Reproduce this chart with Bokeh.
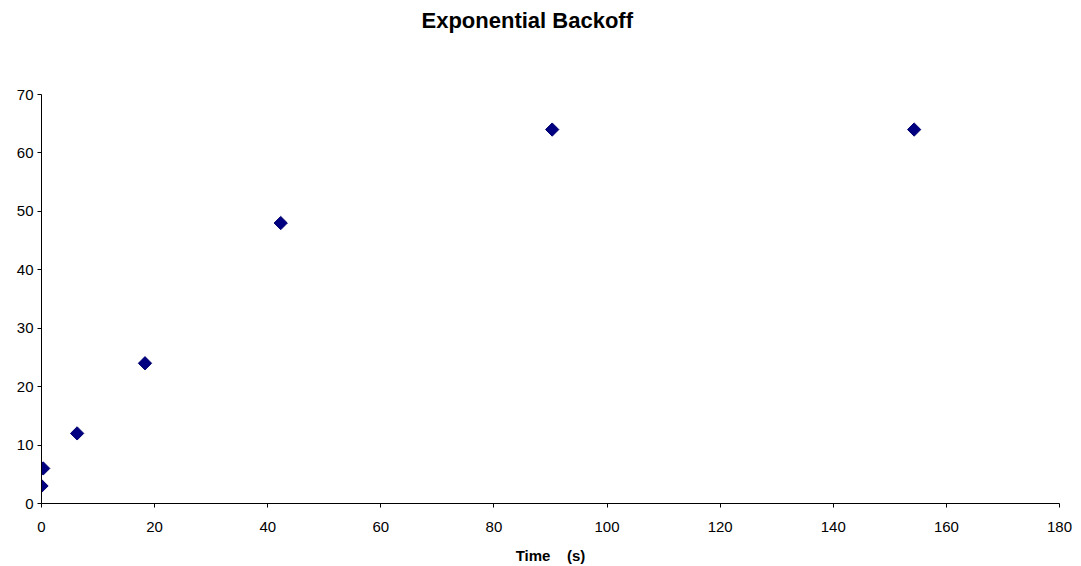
import math
from bokeh.plotting import figure
from bokeh.models import FixedTicker, Range1d, Title
from bokeh.embed import file_html
from bokeh.resources import INLINE

# Retry delay (s) plotted against elapsed time (s)
time_s = [0.0, 0.3, 6.3, 18.3, 42.3, 90.3, 154.3]
delay_s = [3, 6, 12, 24, 48, 64, 64]

x_ticks = [0, 20, 40, 60, 80, 100, 120, 140, 160, 180]
y_ticks = [0, 10, 20, 30, 40, 50, 60, 70]

FONT = "Liberation Sans"

p = figure(
    width=1081, height=566,
    x_range=Range1d(0, 180), y_range=Range1d(0, 70),
    output_backend="svg", toolbar_location=None,
    min_border_left=41, min_border_right=22,
    min_border_top=94, min_border_bottom=63,
)
p.title = None
# blank band between the heading and the plot area
p.add_layout(Title(text=" ", standoff=52, text_font_size="1px"), "above")
p.add_layout(Title(text="Exponential Backoff", align="left",
                   vertical_align="top",
                   text_font=FONT, text_font_size="22px",
                   text_font_style="bold", text_color="black",
                   standoff=10, offset=380), "above")

p.outline_line_color = None
p.xgrid.grid_line_color = None
p.ygrid.grid_line_color = None
p.background_fill_color = "white"
p.border_fill_color = "white"

p.scatter(time_s, delay_s, marker="square", angle=math.pi / 4, size=9.4,
          fill_color="#000080", line_color="#000070", line_width=1)

for ax in (p.xaxis[0], p.yaxis[0]):
    ax.axis_line_color = "black"
    ax.axis_line_width = 1
    ax.major_tick_line_color = "black"
    ax.major_tick_out = 4
    ax.major_tick_in = 0
    ax.minor_tick_line_color = None
    ax.major_label_text_font = FONT
    ax.major_label_text_font_size = "15px"
    ax.major_label_text_color = "black"

p.xaxis.ticker = FixedTicker(ticks=x_ticks)
p.yaxis.ticker = FixedTicker(ticks=y_ticks)
p.xaxis.major_label_standoff = 14
p.yaxis.major_label_standoff = 4

p.xaxis.axis_label = "Time\u00a0\u00a0\u00a0\u00a0(s)"
p.xaxis.axis_label_text_font = FONT
p.xaxis.axis_label_text_font_size = "15px"
p.xaxis.axis_label_text_font_style = "bold"
p.xaxis.axis_label_text_color = "black"
p.xaxis.axis_label_standoff = 12

open("out.html", "w").write(file_html(p, INLINE))
